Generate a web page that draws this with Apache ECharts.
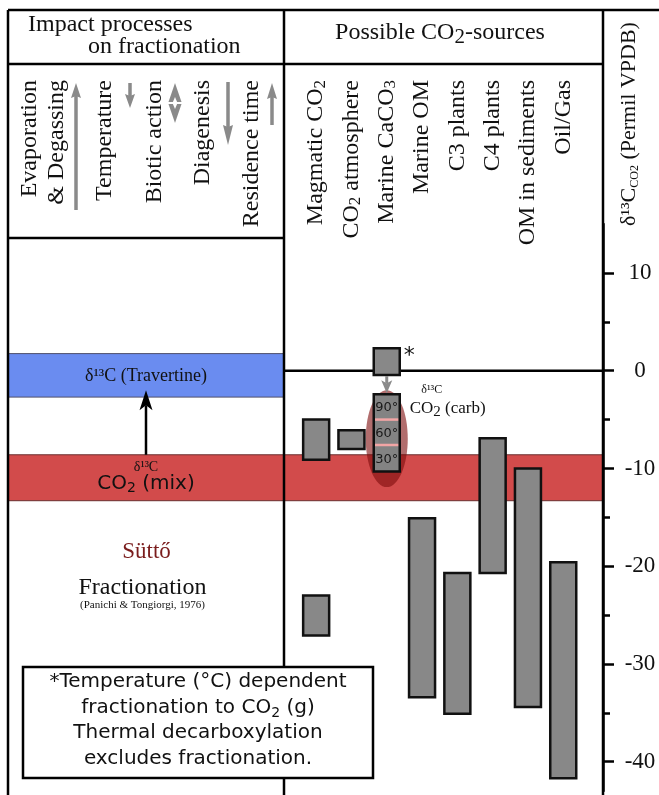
<!DOCTYPE html>
<html>
<head>
<meta charset="utf-8">
<title>δ13C of possible CO2 sources – Süttő</title>
<script src="https://cdn.jsdelivr.net/npm/echarts@6.0.0/dist/echarts.min.js"></script>
<style>
html,body{margin:0;padding:0;background:#ffffff;}
#chart{width:659px;height:795px;}
</style>
</head>
<body>
<div id="chart"></div>
<script>
// ---------------- data ----------------
const sourceNames = ['Magmatic CO2', 'CO2 atmosphere', 'Marine CaCO3', 'Marine OM',
  'C3 plants', 'C4 plants', 'OM in sediments', 'Oil/Gas'];
// δ13C ranges of the possible CO2 sources: [source index, upper value, lower value]
const sourceRanges = [
  [0, -5.0, -9.1], [0, -23.0, -27.1],
  [1, -6.1, -8.0],
  [2, 2.3, -0.45],
  [3, -15.1, -33.4],
  [4, -20.7, -35.1],
  [5, -6.9, -20.7],
  [6, -10.0, -34.4],
  [7, -19.6, -41.7]
];
// temperature dependent fractionation of marine CaCO3 to CO2 (carb)
const carbColumn = [2, -2.4, -10.3];
const carbSteps = [[2, -2.4, -5.0], [2, -5.0, -7.6], [2, -7.6, -10.3]];
const carbStepLabels = ['90°', '60°', '30°'];
const carbEllipse = [2, -2.0, -11.9];
const thermalArrow = [2, -0.45, -2.4];
// horizontal bands
const travertineBand = [1.75, -2.7];
const mixBand = [-8.6, -13.3];
const mixArrow = [0.5, -8.6, -2.0];
const zeroLine = [0];
// axis
const yMajorTicks = [10, 0, -10, -20, -30, -40];
const yMinorTicks = [5, -5, -15, -25, -35];
const yRange = [-43, 15];
// left header
const processNames = ['Evaporation', '& Degassing', 'Temperature', 'Biotic action', 'Diagenesis', 'Residence time'];
const noteLines = ['*Temperature (°C) dependent', 'fractionation to CO{s|2} (g)', 'Thermal decarboxylation', 'excludes fractionation.'];

// ---------------- styling ----------------
const SERIF = 'Liberation Serif';
const SANS = 'DejaVu Sans';
const BAR_HALF = 13;
const GRAY = '#888888';
const ARROW_GRAY = '#8a8a8a';

function subRich(size, ff, pad) {
  return { s: { fontSize: size, fontFamily: ff, fill: '#111', padding: [pad, 0, 0, 0] } };
}
function richName(n) { return n.replace(/O(\d)/g, 'O{s|$1}'); }

function arrowEls(x, yTail, yTip, color, shaftW, headW, headL, notch) {
  const d = yTip > yTail ? 1 : -1;
  const base = yTip - d * headL;
  return [
    { type: 'line', shape: { x1: x, y1: yTail, x2: x, y2: base + d * notch }, style: { stroke: color, lineWidth: shaftW } },
    { type: 'polygon', shape: { points: [[x, yTip], [x - headW / 2, base], [x, base + d * notch], [x + headW / 2, base]] }, style: { fill: color } }
  ];
}

// ---------------- series ----------------
const series = [];
function custom(name, gi, data, renderItem) {
  series.push({ type: 'custom', name, xAxisIndex: gi, yAxisIndex: gi, data, renderItem, silent: true, clip: false, animation: false });
}

// travertine band (left panel)
custom('δ13C travertine', 0, [travertineBand], function (params, api) {
  const cs = params.coordSys;
  const y1 = api.coord([0, api.value(0)])[1], y2 = api.coord([0, api.value(1)])[1];
  return { type: 'group', children: [
    { type: 'rect', shape: { x: cs.x, y: y1, width: cs.width, height: y2 - y1 }, style: { fill: '#6a8cf0', stroke: '#50506a', lineWidth: 1 } },
    { type: 'text', x: cs.x + cs.width / 2, y: (y1 + y2) / 2 + 1, style: { text: 'δ¹³C (Travertine)', fontFamily: SERIF, fontSize: 18, fill: '#111', align: 'center', verticalAlign: 'middle' } }
  ] };
});
// CO2 mix band (left panel, with label)
custom('δ13C CO2 mix', 0, [mixBand], function (params, api) {
  const cs = params.coordSys;
  const y1 = api.coord([0, api.value(0)])[1], y2 = api.coord([0, api.value(1)])[1];
  const cx = cs.x + cs.width / 2, cy = (y1 + y2) / 2;
  return { type: 'group', children: [
    { type: 'rect', shape: { x: cs.x, y: y1, width: cs.width, height: y2 - y1 }, style: { fill: '#d24b4b', stroke: '#6a3030', lineWidth: 1 } },
    { type: 'text', x: cx, y: cy - 10, z2: 5, style: { text: 'δ¹³C', fontFamily: SERIF, fontSize: 14, fill: '#111', align: 'center', verticalAlign: 'middle' } },
    { type: 'text', x: cx, y: cy + 6, style: { text: 'CO{s|2} (mix)', fontFamily: SANS, fontSize: 20, fill: '#111', align: 'center', verticalAlign: 'middle', rich: subRich(14, SANS, 10) } }
  ] };
});
// CO2 mix band (right panel)
custom('δ13C CO2 mix (sources)', 1, [mixBand], function (params, api) {
  const cs = params.coordSys;
  const y1 = api.coord([0, api.value(0)])[1], y2 = api.coord([0, api.value(1)])[1];
  return { type: 'rect', shape: { x: cs.x, y: y1, width: cs.width, height: y2 - y1 }, style: { fill: '#d24b4b', stroke: '#6a3030', lineWidth: 1 } };
});
// zero line
custom('zero', 1, [zeroLine], function (params, api) {
  const cs = params.coordSys;
  const y = api.coord([0, api.value(0)])[1];
  return { type: 'line', shape: { x1: cs.x, y1: y, x2: cs.x + cs.width, y2: y }, style: { stroke: '#000', lineWidth: 2.5 } };
});
// ellipse around carb column
custom('carb field', 1, [carbEllipse], function (params, api) {
  const p1 = api.coord([api.value(0), api.value(1)]), p2 = api.coord([api.value(0), api.value(2)]);
  return { type: 'ellipse', shape: { cx: p1[0], cy: (p1[1] + p2[1]) / 2, rx: 21, ry: (p2[1] - p1[1]) / 2 }, style: { fill: 'rgba(125,12,12,0.6)' } };
});
// source bars
custom('CO2 sources', 1, sourceRanges, function (params, api) {
  const p1 = api.coord([api.value(0), api.value(1)]), p2 = api.coord([api.value(0), api.value(2)]);
  return { type: 'rect', shape: { x: p1[0] - BAR_HALF, y: p1[1], width: 2 * BAR_HALF, height: p2[1] - p1[1] }, style: { fill: GRAY, stroke: '#111', lineWidth: 2.5 } };
});
// carb temperature steps
custom('carb steps', 1, carbSteps, function (params, api) {
  const p1 = api.coord([api.value(0), api.value(1)]), p2 = api.coord([api.value(0), api.value(2)]);
  const ch = [
    { type: 'rect', shape: { x: p1[0] - BAR_HALF, y: p1[1], width: 2 * BAR_HALF, height: p2[1] - p1[1] }, style: { fill: '#838383' } },
    { type: 'text', x: p1[0], y: (p1[1] + p2[1]) / 2 + 1, style: { text: carbStepLabels[params.dataIndex], fontFamily: SANS, fontSize: 13, fill: '#1a1a1a', align: 'center', verticalAlign: 'middle' } }
  ];
  if (params.dataIndex > 0) {
    ch.push({ type: 'line', shape: { x1: p1[0] - BAR_HALF + 1, y1: p1[1], x2: p1[0] + BAR_HALF - 1, y2: p1[1] }, style: { stroke: '#f2a5a5', lineWidth: 2.5 } });
  }
  return { type: 'group', children: ch };
});
// carb column outline
custom('carb outline', 1, [carbColumn], function (params, api) {
  const p1 = api.coord([api.value(0), api.value(1)]), p2 = api.coord([api.value(0), api.value(2)]);
  return { type: 'group', children: [
    { type: 'rect', shape: { x: p1[0] - BAR_HALF, y: p1[1], width: 2 * BAR_HALF, height: p2[1] - p1[1] }, style: { fill: 'none', stroke: '#111', lineWidth: 2.5 } },
    { type: 'text', x: p1[0] + 45, y: p1[1] - 4, style: { text: 'δ¹³C', fontFamily: SERIF, fontSize: 12, fill: '#111', align: 'center', verticalAlign: 'middle' } },
    { type: 'text', x: p1[0] + 23, y: p1[1] + 14, style: { text: 'CO{s|2} (carb)', fontFamily: SERIF, fontSize: 17, fill: '#111', align: 'left', verticalAlign: 'middle', rich: subRich(15, SERIF, 8) } }
  ] };
});
// thermal arrow from decarboxylation square to carb column
custom('thermal arrow', 1, [thermalArrow], function (params, api) {
  const p1 = api.coord([api.value(0), api.value(1)]), p2 = api.coord([api.value(0), api.value(2)]);
  const sqTop = api.coord([api.value(0), sourceRanges[3][1]]);
  const ch = arrowEls(p1[0], p1[1] + 1, p2[1] - 1, ARROW_GRAY, 3, 11, 13, 3);
  ch.push({ type: 'text', x: p1[0] + BAR_HALF + 4, y: sqTop[1] - 3, style: { text: '*', fontFamily: SANS, fontSize: 22, fill: '#111', align: 'left', verticalAlign: 'top' } });
  return { type: 'group', children: ch };
});
// arrow from CO2 mix to travertine
custom('mix arrow', 0, [mixArrow], function (params, api) {
  const p1 = api.coord([api.value(0), api.value(1)]), p2 = api.coord([api.value(0), api.value(2)]);
  return { type: 'group', children: arrowEls(p1[0], p1[1], p2[1], '#000', 2.5, 13, 20, 5) };
});
// source labels
custom('source labels', 1, sourceNames.map((n, i) => [i, 0]), function (params, api) {
  const p = api.coord([api.value(0), 0]);
  return { type: 'text', x: p[0], y: 80, rotation: Math.PI / 2, style: {
    text: richName(sourceNames[params.dataIndex]), fontFamily: SERIF, fontSize: 24, fill: '#111',
    align: 'right', verticalAlign: 'middle', rich: subRich(17, SERIF, 8) } };
});

// ---------------- graphics (table frame & annotations) ----------------
const G = [];
function gLine(x1, y1, x2, y2) { G.push({ type: 'line', z: 50, silent: true, shape: { x1, y1, x2, y2 }, style: { stroke: '#000', lineWidth: 2.5 } }); }
function gText(x, y, text, o) {
  o = o || {};
  G.push({ type: 'text', z: o.z || 55, x, y, rotation: o.rot || 0, silent: true, style: {
    text, fontFamily: o.ff || SERIF, fontSize: o.fs || 24, fill: o.fill || '#111',
    align: o.align || 'center', verticalAlign: o.va || 'middle', rich: o.rich } });
}
gLine(8, 10, 659, 10);
gLine(8, 10, 8, 795);
gLine(8, 64, 603, 64);
gLine(284, 10, 284, 795);
gLine(603, 10, 603, 795);
gLine(8, 238, 284, 238);

// headers
gText(28, 25, 'Impact processes', { align: 'left', fs: 24 });
gText(88, 47, 'on fractionation', { align: 'left', fs: 24 });
gText(440, 33, 'Possible CO{s|2}-sources', { fs: 24, rich: subRich(21, SERIF, 8) });
gText(629, 124, 'δ¹³C{s|CO2} (Permil VPDB)', { fs: 22, rot: Math.PI / 2, rich: subRich(12, SERIF, 12) });

// process labels & arrows
const processX = [30, 57, 105, 155, 203, 252];
processNames.forEach((n, i) => gText(processX[i], 80, n, { rot: Math.PI / 2, align: 'right', fs: 24 }));
function gArrow(x, yTail, yTip, w, L) { arrowEls(x, yTail, yTip, ARROW_GRAY, 3.5, w, L, 2).forEach(e => { e.z = 45; e.silent = true; G.push(e); }); }
gArrow(76, 210, 83, 10, 15);
gArrow(130, 83, 108, 10, 14);
gArrow(228, 82, 145, 10, 20);
gArrow(272, 125, 83, 10, 16);
G.push({ type: 'polygon', z: 45, shape: { points: [[175, 83], [168.5, 102], [181.5, 102]] }, style: { fill: ARROW_GRAY } });
G.push({ type: 'polygon', z: 45, shape: { points: [[175, 123], [168.5, 104], [181.5, 104]] }, style: { fill: ARROW_GRAY } });
G.push({ type: 'rect', z: 45, shape: { x: 173, y: 100, width: 4, height: 6 }, style: { fill: ARROW_GRAY } });
G.push({ type: 'polygon', z: 46, shape: { points: [[175, 97], [177.5, 103], [175, 109], [172.5, 103]] }, style: { fill: '#ffffff' } });

// site annotation
gText(146.5, 552, 'Süttő', { fs: 23, fill: '#7a1c1c' });
gText(142.5, 588, 'Fractionation', { fs: 24 });
gText(142.5, 605, '(Panichi & Tongiorgi, 1976)', { fs: 11 });

// note box
G.push({ type: 'rect', z: 60, silent: true, shape: { x: 23, y: 667, width: 350, height: 111 }, style: { fill: '#fff', stroke: '#000', lineWidth: 2.5 } });
const noteY = [682, 708, 733, 759];
noteLines.forEach((t, i) => gText(198, noteY[i], t, { z: 61, ff: SANS, fs: 20, rich: subRich(14, SANS, 10) }));

// ---------------- chart ----------------
const chart = echarts.init(document.getElementById('chart'), null, { renderer: 'canvas' });
const yAxisBase = { type: 'value', min: yRange[0], max: yRange[1], splitLine: { show: false } };
chart.setOption({
  animation: false,
  backgroundColor: '#ffffff',
  grid: [
    { left: 8, right: 375, top: 224.1, bottom: 4, containLabel: false, outerBoundsMode: 'none' },
    { left: 284, right: 56, top: 224.1, bottom: 4, containLabel: false, outerBoundsMode: 'none' }
  ],
  xAxis: [
    { gridIndex: 0, type: 'value', min: 0, max: 1, show: false },
    { gridIndex: 1, type: 'value', min: -0.9108, max: 8.1261, show: false }
  ],
  yAxis: [
    Object.assign({ gridIndex: 0, show: false }, yAxisBase),
    Object.assign({ gridIndex: 1, position: 'right',
      axisLine: { show: true, onZero: false, lineStyle: { color: '#000', width: 2.5 } },
      axisTick: { show: true, customValues: yMajorTicks, length: 11, lineStyle: { color: '#000', width: 2.5 } },
      axisLabel: { show: true, customValues: yMajorTicks, align: 'center', margin: 37, fontFamily: SERIF, fontSize: 23, color: '#111' }
    }, yAxisBase),
    Object.assign({ gridIndex: 1, position: 'right',
      axisLine: { show: false, onZero: false },
      axisTick: { show: true, customValues: yMinorTicks, length: 7, lineStyle: { color: '#000', width: 2.5 } },
      axisLabel: { show: false }
    }, yAxisBase)
  ],
  series: series,
  graphic: { elements: G }
});
</script>
</body>
</html>
